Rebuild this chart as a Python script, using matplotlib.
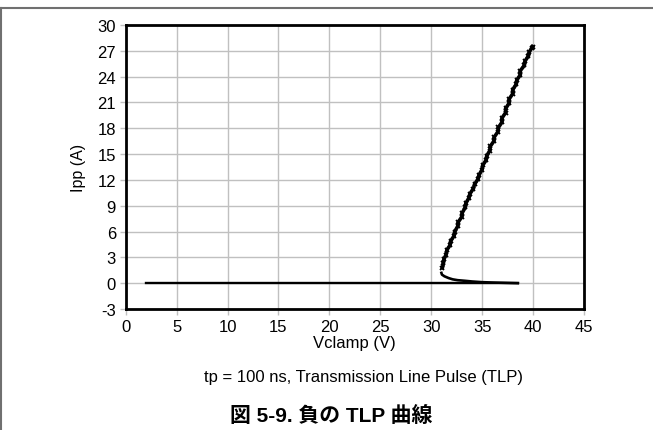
import matplotlib
matplotlib.use("Agg")
import matplotlib.pyplot as plt
from matplotlib.lines import Line2D

plt.rcParams['font.family'] = ['Liberation Sans', 'Noto Sans CJK JP', 'DejaVu Sans']
plt.rcParams['axes.unicode_minus'] = False

# off-state: flat line at 0 A
v_off = [2.0, 10.0, 20.0, 30.0, 38.5]
i_off = [0.0, 0.0, 0.0, 0.0, 0.0]

# snapback from ~38.5 V down to the holding point
v_snap = [38.5, 37.0, 36.0, 35.0, 34.0, 33.3, 32.6, 32.1, 31.7, 31.3, 31.05, 31.0]
i_snap = [0.0, 0.05, 0.08, 0.12, 0.2, 0.28, 0.35, 0.45, 0.6, 0.8, 1.0, 1.2]

# on-state rising branch
v_on = [31.1, 31.2, 31.25, 31.45, 31.55, 31.85, 31.9, 32.25, 32.3, 32.6, 32.65, 33.0,
        33.05, 33.35, 33.4, 33.7, 33.8, 34.15, 34.25, 34.6, 34.7, 35.0, 35.05, 35.4,
        35.45, 35.75, 35.8, 36.15, 36.2, 36.55, 36.6, 36.95, 36.95, 37.3, 37.3, 37.65,
        37.65, 38.0, 38.0, 38.35, 38.4, 38.75, 38.75, 39.15, 39.2, 39.55, 39.65, 39.85, 39.95]
i_on = [1.8, 2.3, 2.8, 3.3, 3.9, 4.4, 4.9, 5.5, 6.0, 6.6, 7.1, 7.7,
        8.2, 8.8, 9.3, 9.9, 10.4, 11.0, 11.5, 12.1, 12.6, 13.2, 13.7, 14.3,
        14.8, 15.4, 15.9, 16.5, 17.0, 17.6, 18.1, 18.7, 19.2, 19.8, 20.3, 20.9,
        21.4, 22.0, 22.5, 23.1, 23.6, 24.2, 24.7, 25.3, 25.8, 26.4, 26.9, 27.3, 27.5]

x_ticks = [0, 5, 10, 15, 20, 25, 30, 35, 40, 45]
y_ticks = [-3, 0, 3, 6, 9, 12, 15, 18, 21, 24, 27, 30]

fig = plt.figure(figsize=(6.53, 4.31), dpi=100)
ax = fig.add_axes([0.1925, 0.2807, 0.7018, 0.659])

ax.plot(v_off, i_off, color='black', lw=1.7)
ax.plot(v_snap, i_snap, color='black', lw=1.9)
ax.plot(v_on, i_on, color='black', lw=2.6, marker='x', ms=3.5, mew=1.3)

ax.set_xlim(0, 45)
ax.set_ylim(-3, 30)
ax.set_xticks(x_ticks)
ax.set_yticks(y_ticks)
ax.grid(True, color='#c0c0c0', lw=1)
ax.tick_params(direction='out', length=4, width=1, color='#c0c0c0', labelsize=12, pad=3)
for s in ax.spines.values():
    s.set_linewidth(2)
    s.set_color('black')

ax.set_xlabel('Vclamp (V)', fontsize=12, labelpad=1)
ax.set_ylabel('Ipp (A)', fontsize=11.5, labelpad=8)

fig.text(0.557, 0.123, 'tp = 100 ns, Transmission Line Pulse (TLP)', ha='center', va='center', fontsize=12)
fig.text(0.507, 0.035, '図 5-9. 負の TLP 曲線', ha='center', va='center', fontsize=15, fontweight='bold')

# page border bits (top and left)
fig.add_artist(Line2D([0, 1], [0.979, 0.979], transform=fig.transFigure, color='#707070', lw=1.5))
fig.add_artist(Line2D([0.001, 0.001], [0, 0.979], transform=fig.transFigure, color='#707070', lw=1.5))

fig.savefig('out.png', dpi=100)
